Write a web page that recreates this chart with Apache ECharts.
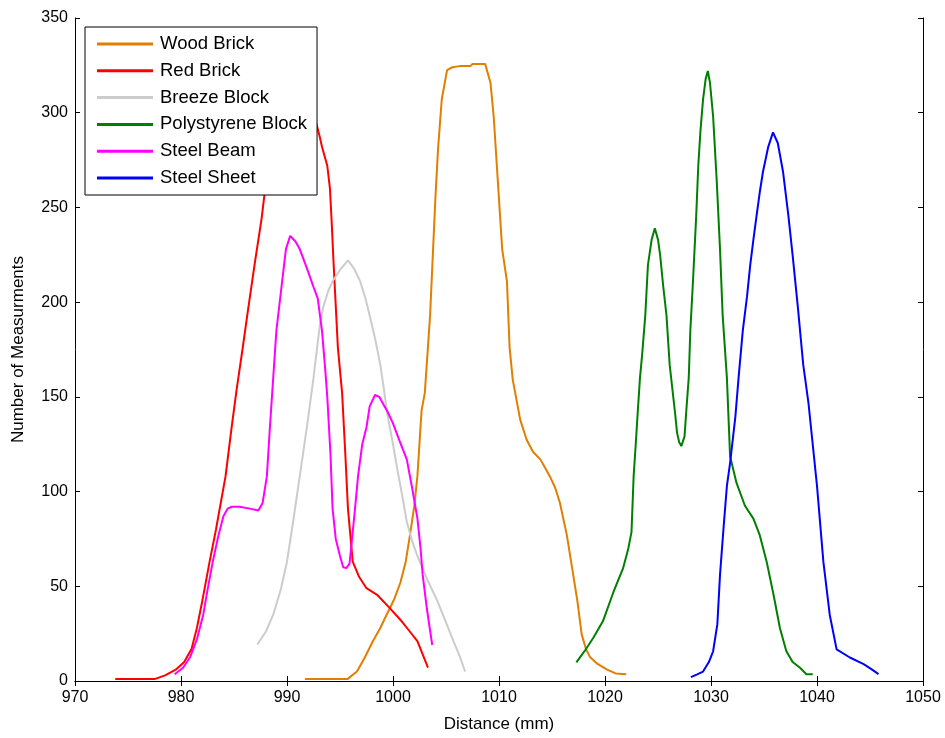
<!DOCTYPE html>
<html>
<head>
<meta charset="utf-8">
<script src="https://cdn.jsdelivr.net/npm/echarts@6/dist/echarts.min.js"></script>
<style>
  html, body { margin: 0; padding: 0; background: #fff; }
  #chart { width: 945px; height: 738px; }
</style>
</head>
<body>
<div id="chart"></div>
<script>
// Distance histograms for each material (count of measurements per distance bin)
const seriesNames = ['Wood Brick', 'Red Brick', 'Breeze Block', 'Polystyrene Block', 'Steel Beam', 'Steel Sheet'];
const seriesColors = ['#E07F00', '#FF0000', '#CCCCCC', '#008000', '#FF00FF', '#0000FF'];

const xTicks = [970, 980, 990, 1000, 1010, 1020, 1030, 1040, 1050];
const yTicks = [0, 50, 100, 150, 200, 250, 300, 350];

const woodX = [991.7, 995.7, 996.6, 997.3, 998.1, 998.8, 999.4, 1000.1, 1000.7, 1001.2, 1001.6, 1002.0, 1002.3, 1002.7, 1003.0, 1003.5, 1004.0, 1004.25, 1004.6, 1005.1, 1005.6, 1006.3, 1007.3, 1007.5, 1008.7, 1009.2, 1009.5, 1009.9, 1010.3, 1010.75, 1011.0, 1011.3, 1012.0, 1012.6, 1013.2, 1013.9, 1014.4, 1014.8, 1015.3, 1015.75, 1016.4, 1016.9, 1017.4, 1017.8, 1018.2, 1018.6, 1019.3, 1020.2, 1021.0, 1022.0];
const woodY = [1, 1, 5, 12, 21, 28, 35, 43, 52, 63, 77, 92, 108, 143, 152, 193, 255, 281, 307, 322.5, 324, 324.6, 324.6, 325.7, 325.7, 315.7, 298, 263, 228, 211, 176, 159, 138, 127.5, 121, 117, 112, 108, 102, 94, 77, 59.6, 42, 24.6, 17, 12.5, 9, 6, 4, 3.6];

const redX = [973.8, 977.5, 978.5, 979.5, 980.3, 981.0, 981.5, 982.0, 982.7, 983.3, 984.2, 984.8, 985.25, 985.8, 986.3, 987.0, 987.6, 987.9, 988.7, 989.5, 990.5, 991.5, 992.5, 993.1, 993.3, 993.8, 994.05, 994.2, 994.4, 994.8, 995.2, 995.5, 995.75, 996.2, 996.8, 997.5, 998.5, 999.7, 1000.9, 1001.6, 1002.3, 1002.8, 1003.3];
const redY = [1, 1, 3, 6, 10, 17, 28, 42, 63, 80, 108, 135, 154, 175, 195, 222, 244, 258, 285, 303, 312, 310, 300, 287, 282, 272, 260, 244, 220, 176, 152, 120, 91, 63, 55, 49, 45.5, 38.5, 31, 26, 21, 14, 7];

const breezeX = [987.2, 988.0, 988.7, 989.4, 990.0, 990.6, 991.2, 991.9, 992.5, 993.1, 993.4, 993.9, 994.3, 995.0, 995.75, 996.3, 996.9, 997.4, 997.8, 998.3, 998.8, 999.2, 999.4, 1000.0, 1000.4, 1000.9, 1001.3, 1001.8, 1002.3, 1003.2, 1004.2, 1005.0, 1005.7, 1006.3, 1006.8];
const breezeY = [19.3, 26, 35, 48, 63, 85, 108, 135, 160, 188, 197, 206, 211, 217, 222, 218, 211, 202, 193, 181, 167, 152, 143, 125, 112, 97, 84, 74, 66, 54, 42, 31, 21, 13, 5];

const polyX = [1017.3, 1018.1, 1018.9, 1019.8, 1020.8, 1021.7, 1022.2, 1022.5, 1022.7, 1022.9, 1023.1, 1023.3, 1023.5, 1023.8, 1024.05, 1024.4, 1024.7, 1025.0, 1025.2, 1025.5, 1025.8, 1026.1, 1026.4, 1026.6, 1026.8, 1027.0, 1027.2, 1027.5, 1027.7, 1027.9, 1028.05, 1028.3, 1028.6, 1028.8, 1029.0, 1029.25, 1029.5, 1029.7, 1029.9, 1030.2, 1030.55, 1030.85, 1031.1, 1031.5, 1031.8, 1032.4, 1033.2, 1034.0, 1034.6, 1035.25, 1035.9, 1036.5, 1037.1, 1037.7, 1038.4, 1039.0, 1039.6];
const polyY = [9.8, 16, 22.8, 31.5, 47, 59.4, 70, 78.6, 108, 125, 143, 160, 172, 193, 219.5, 233, 239, 233, 225, 208, 193, 167, 152, 142, 131, 126, 124, 129, 145, 160, 185, 211, 245, 272, 290, 307, 318, 322, 316, 298, 263, 228, 193, 160, 118.7, 104.7, 92.5, 85.7, 77, 63, 45.5, 28, 15.8, 10, 7, 3.6, 3.6];

const beamX = [979.4, 980.2, 980.85, 981.5, 982.1, 982.5, 983.0, 983.5, 984.0, 984.4, 984.8, 985.5, 986.5, 987.3, 987.7, 988.1, 988.4, 988.7, 989.0, 989.5, 989.9, 990.3, 990.8, 991.2, 991.6, 992.0, 992.5, 992.9, 993.3, 993.6, 993.8, 994.1, 994.3, 994.6, 995.0, 995.3, 995.6, 995.9, 996.1, 996.4, 996.7, 997.1, 997.5, 997.8, 998.3, 998.7, 999.1, 999.5, 1000.0, 1000.6, 1001.3, 1001.8, 1002.3, 1002.6, 1002.8, 1003.2, 1003.7];
const beamY = [3.6, 7, 12.5, 22, 35, 48, 63, 76, 87, 91, 92, 92, 91, 90, 94, 108, 135, 160, 185, 209, 228, 235, 232, 228, 222, 216, 208, 202, 185, 165, 150, 120, 91, 75, 66, 60, 59.6, 62, 73, 90, 108, 125, 134, 145, 151, 150, 146, 142, 136, 127, 117, 102, 86, 70, 56, 38, 19];

const sheetX = [1028.1, 1028.7, 1029.25, 1029.8, 1030.2, 1030.6, 1030.85, 1031.2, 1031.5, 1031.8, 1032.3, 1032.6, 1033.0, 1033.4, 1033.7, 1034.0, 1034.3, 1034.6, 1034.9, 1035.4, 1035.85, 1036.3, 1036.8, 1037.3, 1037.7, 1038.2, 1038.7, 1039.2, 1040.0, 1040.6, 1041.2, 1041.85, 1043.1, 1044.4, 1045.2, 1045.8];
const sheetY = [2, 3.5, 5, 10, 15.7, 30, 56, 82, 103, 115, 139.6, 160, 185, 203, 219.5, 233, 245.7, 258, 268.7, 282, 289.6, 284, 268.7, 245.7, 224.8, 197, 167, 146.5, 103, 63, 35, 16.7, 12.4, 8.9, 6, 3.6];

const allX = [woodX, redX, breezeX, polyX, beamX, sheetX];
const allY = [woodY, redY, breezeY, polyY, beamY, sheetY];

const FONT = '"Liberation Sans", Arial, Helvetica, sans-serif';

function pairs(xs, ys) {
  return xs.map((x, i) => [x, ys[i]]);
}

const series = seriesNames.map((name, i) => ({
  name: name,
  type: 'line',
  xAxisIndex: 0,
  yAxisIndex: 0,
  data: pairs(allX[i], allY[i]),
  showSymbol: false,
  symbol: 'none',
  smooth: false,
  lineStyle: { width: 2, color: seriesColors[i] },
  itemStyle: { color: seriesColors[i] },
  z: 2 + i
}));

const xMin = xTicks[0], xMax = xTicks[xTicks.length - 1], xStep = xTicks[1] - xTicks[0];
const yMin = yTicks[0], yMax = yTicks[yTicks.length - 1], yStep = yTicks[1] - yTicks[0];

const axisLineStyle = { show: true, lineStyle: { color: '#000', width: 1 } };
const tickStyle = { show: true, inside: true, length: 5, lineStyle: { color: '#000', width: 1 } };
const plainNumber = v => String(v);

const option = {
  animation: false,
  backgroundColor: '#fff',
  textStyle: { fontFamily: FONT },
  grid: { left: 75, right: 22, top: 18, bottom: 51, containLabel: false },
  legend: {
    data: seriesNames,
    orient: 'vertical',
    left: 85,
    top: 27,
    backgroundColor: '#fff',
    borderColor: '#000',
    borderWidth: 1,
    borderRadius: 0,
    padding: [7, 10, 7, 12],
    itemGap: 6.8,
    itemWidth: 56,
    itemHeight: 3,
    icon: 'rect',
    textStyle: { fontFamily: FONT, fontSize: 18.5, color: '#000', lineHeight: 20, padding: [0, 0, 0, 2] }
  },
  xAxis: [
    {
      type: 'value', position: 'bottom', min: xMin, max: xMax, interval: xStep,
      name: 'Distance (mm)', nameLocation: 'middle', nameGap: 35,
      nameTextStyle: { fontFamily: FONT, fontSize: 17, color: '#000' },
      axisLine: axisLineStyle, axisTick: tickStyle,
      axisLabel: { fontFamily: FONT, fontSize: 16, color: '#000', margin: 9, formatter: plainNumber },
      splitLine: { show: false }
    },
    {
      type: 'value', position: 'top', min: xMin, max: xMax, interval: xStep,
      axisLine: axisLineStyle, axisTick: tickStyle,
      axisLabel: { show: false }, splitLine: { show: false }
    }
  ],
  yAxis: [
    {
      type: 'value', position: 'left', min: yMin, max: yMax, interval: yStep,
      name: 'Number of Measurments', nameLocation: 'middle', nameGap: 48, nameRotate: 90,
      nameTextStyle: { fontFamily: FONT, fontSize: 17, color: '#000' },
      axisLine: axisLineStyle, axisTick: tickStyle,
      axisLabel: { fontFamily: FONT, fontSize: 16, color: '#000', margin: 7, formatter: plainNumber },
      splitLine: { show: false }
    },
    {
      type: 'value', position: 'right', min: yMin, max: yMax, interval: yStep,
      axisLine: axisLineStyle, axisTick: tickStyle,
      axisLabel: { show: false }, splitLine: { show: false }
    }
  ],
  series: series
};

const chart = echarts.init(document.getElementById('chart'), null, { renderer: 'canvas' });
chart.setOption(option);
</script>
</body>
</html>
